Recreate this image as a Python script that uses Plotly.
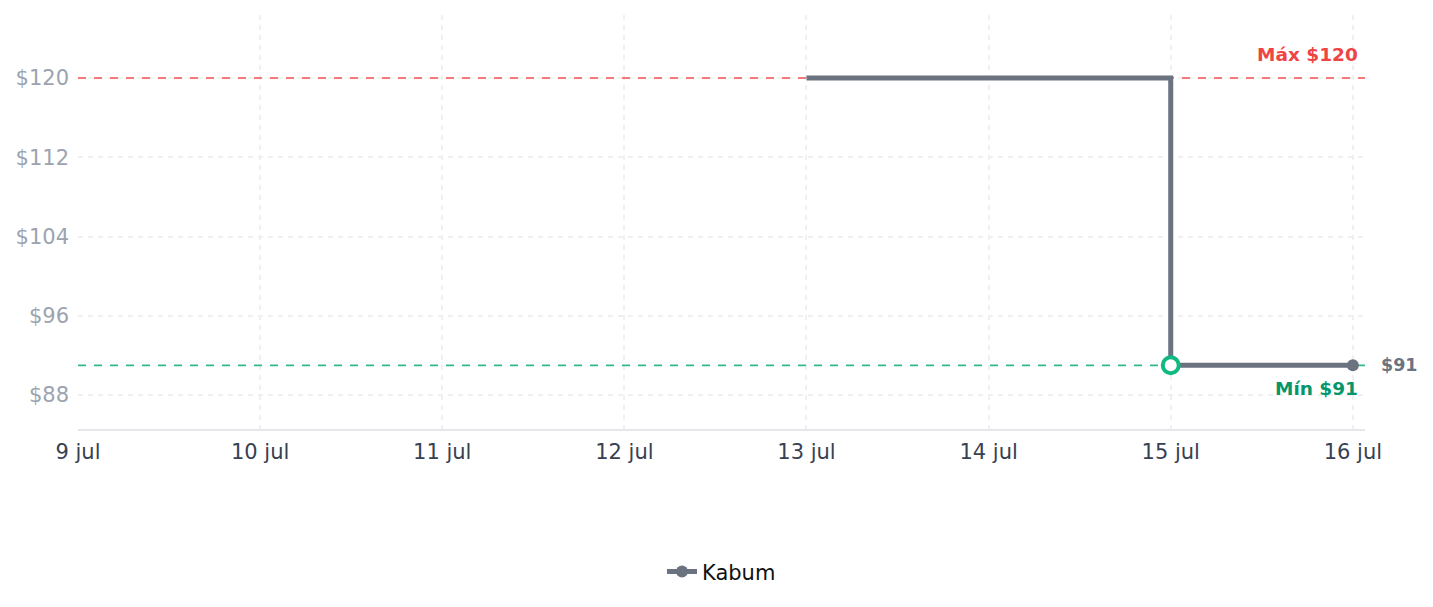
import plotly.graph_objects as go

# Data
dates = ["2025-07-13", "2025-07-15", "2025-07-16"]
prices = [120, 91, 91]
store = "Kabum"
tick_dates = ["2025-07-09", "2025-07-10", "2025-07-11", "2025-07-12",
              "2025-07-13", "2025-07-14", "2025-07-15", "2025-07-16"]
tick_labels = ["9 jul", "10 jul", "11 jul", "12 jul", "13 jul", "14 jul", "15 jul", "16 jul"]
y_ticks = [88, 96, 104, 112, 120]
y_labels = ["$88", "$96", "$104", "$112", "$120"]
max_price = 120
min_price = 91
min_date = "2025-07-15"
last_date = dates[-1]
last_price = prices[-1]
x_range = ["2025-07-09", "2025-07-16 01:36"]
y_range = [84.57, 126.36]

FONT = "DejaVu Sans"
LINE = "#6b7280"

fig = go.Figure()

# reference lines (max / min) spanning the whole x range
fig.add_trace(go.Scatter(
    x=x_range, y=[max_price, max_price], mode="lines",
    line=dict(color="#f47a7a", width=1.8, dash="8px,8px"),
    showlegend=False, hoverinfo="skip"))
fig.add_trace(go.Scatter(
    x=x_range, y=[min_price, min_price], mode="lines",
    line=dict(color="#34b98a", width=1.8, dash="8px,8px"),
    showlegend=False, hoverinfo="skip"))

fig.add_trace(go.Scatter(
    x=dates, y=prices, mode="lines", line=dict(color=LINE, width=5, shape="hv"),
    showlegend=False, hoverinfo="skip"))

fig.add_trace(go.Scatter(
    x=[last_date], y=[last_price], mode="markers",
    marker=dict(color=LINE, size=12), showlegend=False, hoverinfo="skip"))

fig.add_trace(go.Scatter(
    x=[min_date], y=[min_price], mode="markers",
    marker=dict(color="white", size=16, line=dict(color="#10b981", width=4)),
    showlegend=False, hoverinfo="skip"))

fig.add_trace(go.Scatter(
    x=[None], y=[None], mode="lines+markers", name=store,
    line=dict(color=LINE, width=5), marker=dict(color=LINE, size=12)))

fig.add_annotation(xref="paper", x=1, xanchor="right", xshift=-5, y=max_price, yshift=24,
                   yanchor="middle", text="<b>Máx $%d</b>" % max_price, showarrow=False,
                   font=dict(family=FONT, size=18.5, color="#ef4444"))
fig.add_annotation(xref="paper", x=1, xanchor="right", xshift=-5, y=min_price, yshift=-23,
                   yanchor="middle", text="<b>Mín $%d</b>" % min_price, showarrow=False,
                   font=dict(family=FONT, size=18.5, color="#059669"))
fig.add_annotation(x=last_date, xanchor="left", xshift=26, y=last_price, yanchor="middle",
                   text="<b>$%d</b>" % last_price, showarrow=False,
                   font=dict(family=FONT, size=17.5, color=LINE))

fig.update_layout(
    width=1433, height=607,
    margin=dict(l=78, r=68, t=15, b=178),
    plot_bgcolor="white", paper_bgcolor="white",
    font=dict(family=FONT, size=21),
    legend=dict(orientation="h", x=0.5, xanchor="center", y=-0.345, yanchor="middle",
                font=dict(family=FONT, size=21, color="#111111")),
    xaxis=dict(type="date", range=x_range,
               tickvals=tick_dates, ticktext=tick_labels,
               tickfont=dict(family=FONT, size=21, color="#374151"),
               showgrid=True, gridcolor="#f0f0f0", griddash="5px,5px", gridwidth=2,
               showline=True, linecolor="#e5e7eb", linewidth=1.5,
               zeroline=False, ticks="", ticklabelstandoff=3),
    yaxis=dict(range=y_range, tickvals=y_ticks, ticktext=y_labels,
               tickfont=dict(family=FONT, size=21, color="#9ca3af"),
               showgrid=True, gridcolor="#f0f0f0", griddash="5px,5px", gridwidth=2,
               showline=False, zeroline=False, ticks="", ticklabelstandoff=8),
)

fig.write_html("out.html")
